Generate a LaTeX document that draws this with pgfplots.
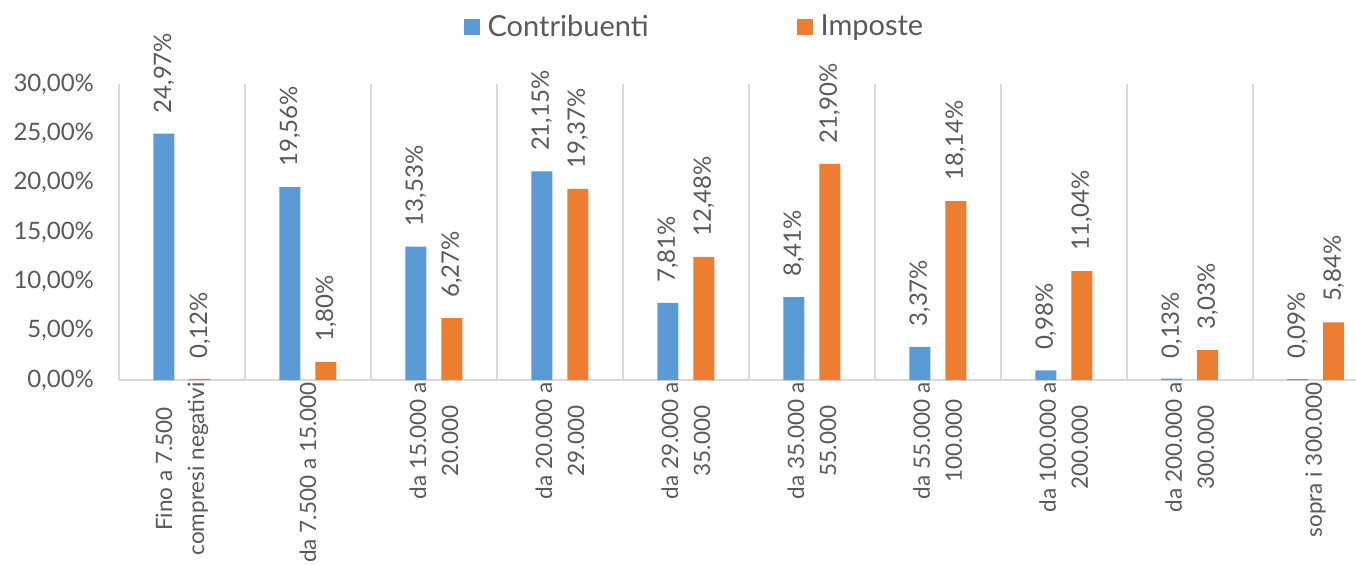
\documentclass[border=0pt]{standalone}
\usepackage{pgfplots}
\pgfplotsset{compat=1.18}
\usepackage{fontspec}
\setmainfont{Lato}
\definecolor{cblue}{HTML}{5B9BD5}
\definecolor{corange}{HTML}{ED7D31}
\definecolor{gridg}{HTML}{D9D9D9}
\definecolor{txt}{HTML}{595959}
\begin{document}
\begin{tikzpicture}
\useasboundingbox (0,0) rectangle (678pt,282pt);
\begin{axis}[
  at={(59.5pt,92pt)}, anchor=south west,
  scale only axis, width=618.5pt, height=148pt,
  ybar=7.5pt, bar width=10.5pt,
  xmin=-0.5, xmax=9.32, ymin=0, ymax=30,
  xtick={0,...,9},
  xticklabels={{Fino a 7.500\\compresi negativi},{da 7.500 a 15.000},{da 15.000 a\\20.000},{da 20.000 a\\29.000},{da 29.000 a\\35.000},{da 35.000 a\\55.000},{da 55.000 a\\100.000},{da 100.000 a\\200.000},{da 200.000 a\\300.000},{sopra i 300.000}},
  minor xtick={0.5,1.5,...,8.5},
  xminorgrids=true,
  minor grid style={draw=gridg, line width=1pt},
  ytick={0,5,...,30},
  /pgf/number format/assume math mode=true,
  yticklabel={\pgfmathprintnumber[fixed,fixed zerofill,precision=2,use comma]{\tick}\%},
  axis x line*=bottom, axis y line*=left,
  axis line style={draw=gridg, line width=1pt, -},
  major tick length=0pt, minor tick length=0pt,
  tick style={draw=none},
  yticklabel style={font=\fontsize{12}{15}\selectfont, text=txt, xshift=-9pt},
  xticklabel style={font=\fontsize{11.25}{16}\selectfont, text=txt, rotate=90, anchor=east, align=center, inner xsep=1pt},
  clip=false,
  nodes near coords={\pgfmathprintnumber[fixed,fixed zerofill,precision=2,use comma]{\pgfplotspointmeta}\%},
  every node near coord/.append style={rotate=90, anchor=west, font=\fontsize{12}{15}\selectfont, text=txt, inner xsep=10pt, inner ysep=0pt},
  legend style={at={(0.466,1.193)}, anchor=center, draw=none, fill=none, legend columns=2, font=\fontsize{14.5}{17}\selectfont, text=txt, /tikz/every even column/.append style={column sep=72pt}},
  legend image code/.code={\fill[#1] (0pt,-4pt) rectangle (8pt,4pt); \path (10pt,0pt);},
]
\addplot[fill=cblue, draw=none] coordinates {(0,24.97) (1,19.56) (2,13.53) (3,21.15) (4,7.81) (5,8.41) (6,3.37) (7,0.98) (8,0.13) (9,0.09)};
\addplot[fill=corange, draw=none] coordinates {(0,0.12) (1,1.80) (2,6.27) (3,19.37) (4,12.48) (5,21.90) (6,18.14) (7,11.04) (8,3.03) (9,5.84)};
\legend{Contribuenti, Imposte}
\end{axis}
\end{tikzpicture}
\end{document}
